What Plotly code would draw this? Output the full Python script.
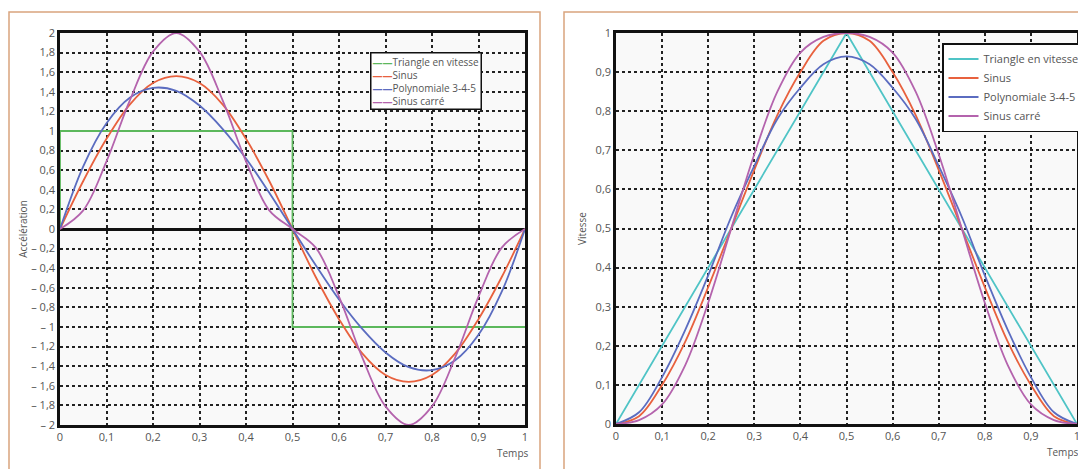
import plotly.graph_objects as go
from plotly.subplots import make_subplots

# Temps (0 -> 1 par pas de 0,05)
temps = [0, 0.05, 0.1, 0.15, 0.2, 0.25, 0.3, 0.35, 0.4, 0.45, 0.5,
         0.55, 0.6, 0.65, 0.7, 0.75, 0.8, 0.85, 0.9, 0.95, 1]

# Accélération
tri_acc_x = [0, 0, 0.5, 0.5, 1]
tri_acc_y = [0, 1, 1, -1, -1]
sin_acc = [0, 0.49, 0.92, 1.27, 1.49, 1.56, 1.49, 1.27, 0.92, 0.49, 0,
           -0.49, -0.92, -1.27, -1.49, -1.56, -1.49, -1.27, -0.92, -0.49, 0]
poly_acc = [0, 0.64, 1.08, 1.34, 1.44, 1.41, 1.26, 1.02, 0.72, 0.37, 0,
            -0.37, -0.72, -1.02, -1.26, -1.41, -1.44, -1.34, -1.08, -0.64, 0]
sincar_acc = [0, 0.19, 0.69, 1.31, 1.81, 2.0, 1.81, 1.31, 0.69, 0.19, 0,
              -0.19, -0.69, -1.31, -1.81, -2.0, -1.81, -1.31, -0.69, -0.19, 0]

# Vitesse
tri_vit_x = [0, 0.5, 1]
tri_vit_y = [0, 1, 0]
sin_vit = [0, 0.02, 0.10, 0.21, 0.35, 0.50, 0.65, 0.79, 0.90, 0.98, 1.0,
           0.98, 0.90, 0.79, 0.65, 0.50, 0.35, 0.21, 0.10, 0.02, 0]
poly_vit = [0, 0.03, 0.12, 0.24, 0.38, 0.53, 0.66, 0.78, 0.86, 0.92, 0.94,
            0.92, 0.86, 0.78, 0.66, 0.53, 0.38, 0.24, 0.12, 0.03, 0]
sincar_vit = [0, 0.01, 0.05, 0.15, 0.31, 0.50, 0.69, 0.85, 0.95, 0.99, 1.0,
              0.99, 0.95, 0.85, 0.69, 0.50, 0.31, 0.15, 0.05, 0.01, 0]

noms = ["Triangle en vitesse", "Sinus", "Polynomiale 3-4-5", "Sinus carré"]

# tick labels
x_ticks = [0, 0.1, 0.2, 0.3, 0.4, 0.5, 0.6, 0.7, 0.8, 0.9, 1]
x_text = ["0", "0,1", "0,2", "0,3", "0,4", "0,5", "0,6", "0,7", "0,8", "0,9", "1"]
acc_ticks = [2, 1.8, 1.6, 1.4, 1.2, 1, 0.8, 0.6, 0.4, 0.2, 0,
             -0.2, -0.4, -0.6, -0.8, -1, -1.2, -1.4, -1.6, -1.8, -2]
acc_text = ["2", "1,8", "1,6", "1,4", "1,2", "1", "0,8", "0,6", "0,4", "0,2", "0",
            "– 0,2", "– 0,4", "– 0,6", "– 0,8", "– 1", "– 1,2", "– 1,4", "– 1,6", "– 1,8", "– 2"]
vit_ticks = [0, 0.1, 0.2, 0.3, 0.4, 0.5, 0.6, 0.7, 0.8, 0.9, 1]
vit_text = ["0", "0,1", "0,2", "0,3", "0,4", "0,5", "0,6", "0,7", "0,8", "0,9", "1"]

GREEN = '#5cb85c'
CYAN = '#4fc4c6'
ORANGE = '#e8613e'
BLUE = '#5b6cc0'
PURPLE = '#b463ad'
FONT = 'Open Sans, sans-serif'

# the page body adds an 8px offset, so the figure is drawn 8px smaller
W, H = 1078, 461
def px(x):
    return (x - 8) / W
def py(y):
    return 1 - (y - 8) / H

fig = make_subplots(rows=1, cols=2)

# left: acceleration (legend drawn as an annotation, tighter spacing)
fig.add_trace(go.Scatter(x=tri_acc_x, y=tri_acc_y, name=noms[0], mode='lines',
                         line=dict(color=GREEN, width=1.8), showlegend=False), row=1, col=1)
for y, c, n in [(sin_acc, ORANGE, noms[1]), (poly_acc, BLUE, noms[2]), (sincar_acc, PURPLE, noms[3])]:
    fig.add_trace(go.Scatter(x=temps, y=y, name=n, mode='lines', showlegend=False,
                             line=dict(color=c, width=1.8, shape='spline')),
                  row=1, col=1)

# right: vitesse
fig.add_trace(go.Scatter(x=tri_vit_x, y=tri_vit_y, name=noms[0], mode='lines',
                         line=dict(color=CYAN, width=1.8), legend='legend'), row=1, col=2)
for y, c, n in [(sin_vit, ORANGE, noms[1]), (poly_vit, BLUE, noms[2]), (sincar_vit, PURPLE, noms[3])]:
    fig.add_trace(go.Scatter(x=temps, y=y, name=n, mode='lines',
                             line=dict(color=c, width=1.8, shape='spline'), legend='legend'),
                  row=1, col=2)

axis_common = dict(
    showgrid=True, gridcolor='#222', gridwidth=2, griddash='dot',
    showline=True, linecolor='#111', linewidth=2.5, mirror=True,
    tickfont=dict(family=FONT, size=11, color='#555'),
    ticks='', zeroline=False, automargin=False,
)

fig.update_xaxes(**axis_common, range=[0, 1], tickvals=x_ticks, ticktext=x_text)
fig.update_xaxes(domain=[px(60), px(525)], row=1, col=1)
fig.update_xaxes(domain=[px(616), px(1077)], row=1, col=2)

fig.update_yaxes(**axis_common)
fig.update_yaxes(domain=[py(425), py(33)], range=[-2, 2], tickvals=acc_ticks, ticktext=acc_text,
                 zeroline=True, zerolinecolor='#111', zerolinewidth=2.5,
                 title=dict(text='Accélération', standoff=2,
                            font=dict(family=FONT, size=10, color='#555')),
                 row=1, col=1)
fig.update_yaxes(domain=[py(424), py(33)], range=[0, 1], tickvals=vit_ticks, ticktext=vit_text,
                 title=dict(text='Vitesse', standoff=8,
                            font=dict(family=FONT, size=10, color='#555')),
                 row=1, col=2)

legend_left = "<br>".join(
    "<span style='color:%s'><b>——</b></span>%s" % (c, n)
    for c, n in zip([GREEN, ORANGE, BLUE, PURPLE], noms))

fig.update_layout(
    width=W, height=H,
    margin=dict(l=0, r=0, t=0, b=0, autoexpand=False),
    paper_bgcolor='white',
    plot_bgcolor='#f9f9f9',
    showlegend=True,
    legend=dict(bgcolor='white', bordercolor='#111', borderwidth=1.5,
                font=dict(family=FONT, size=11, color='#555'),
                tracegroupgap=0, itemwidth=30, xanchor='left', yanchor='top',
                x=px(942), y=py(43)),
    font=dict(family=FONT, color='#555'),
    shapes=[
        dict(type='rect', xref='paper', yref='paper', x0=px(9), x1=px(540),
             y0=-0.01, y1=py(12), line=dict(color='#d9a47e', width=1.5)),
        dict(type='rect', xref='paper', yref='paper', x0=px(564), x1=1.01,
             y0=-0.01, y1=py(12), line=dict(color='#d9a47e', width=1.5)),
    ],
    annotations=[
        dict(text=legend_left, xref='paper', yref='paper', x=px(370), y=py(52),
             xanchor='left', yanchor='top', align='left', showarrow=False,
             bgcolor='white', bordercolor='#111', borderwidth=1.5, borderpad=1,
             font=dict(family=FONT, size=10, color='#555')),
        dict(text='Temps', xref='paper', yref='paper', x=px(530), y=py(453),
             xanchor='right', yanchor='middle', showarrow=False,
             font=dict(family=FONT, size=10, color='#555')),
        dict(text='Temps', xref='paper', yref='paper', x=px(1080), y=py(452),
             xanchor='right', yanchor='middle', showarrow=False,
             font=dict(family=FONT, size=10, color='#555')),
    ],
)

fig.write_html("out.html")
